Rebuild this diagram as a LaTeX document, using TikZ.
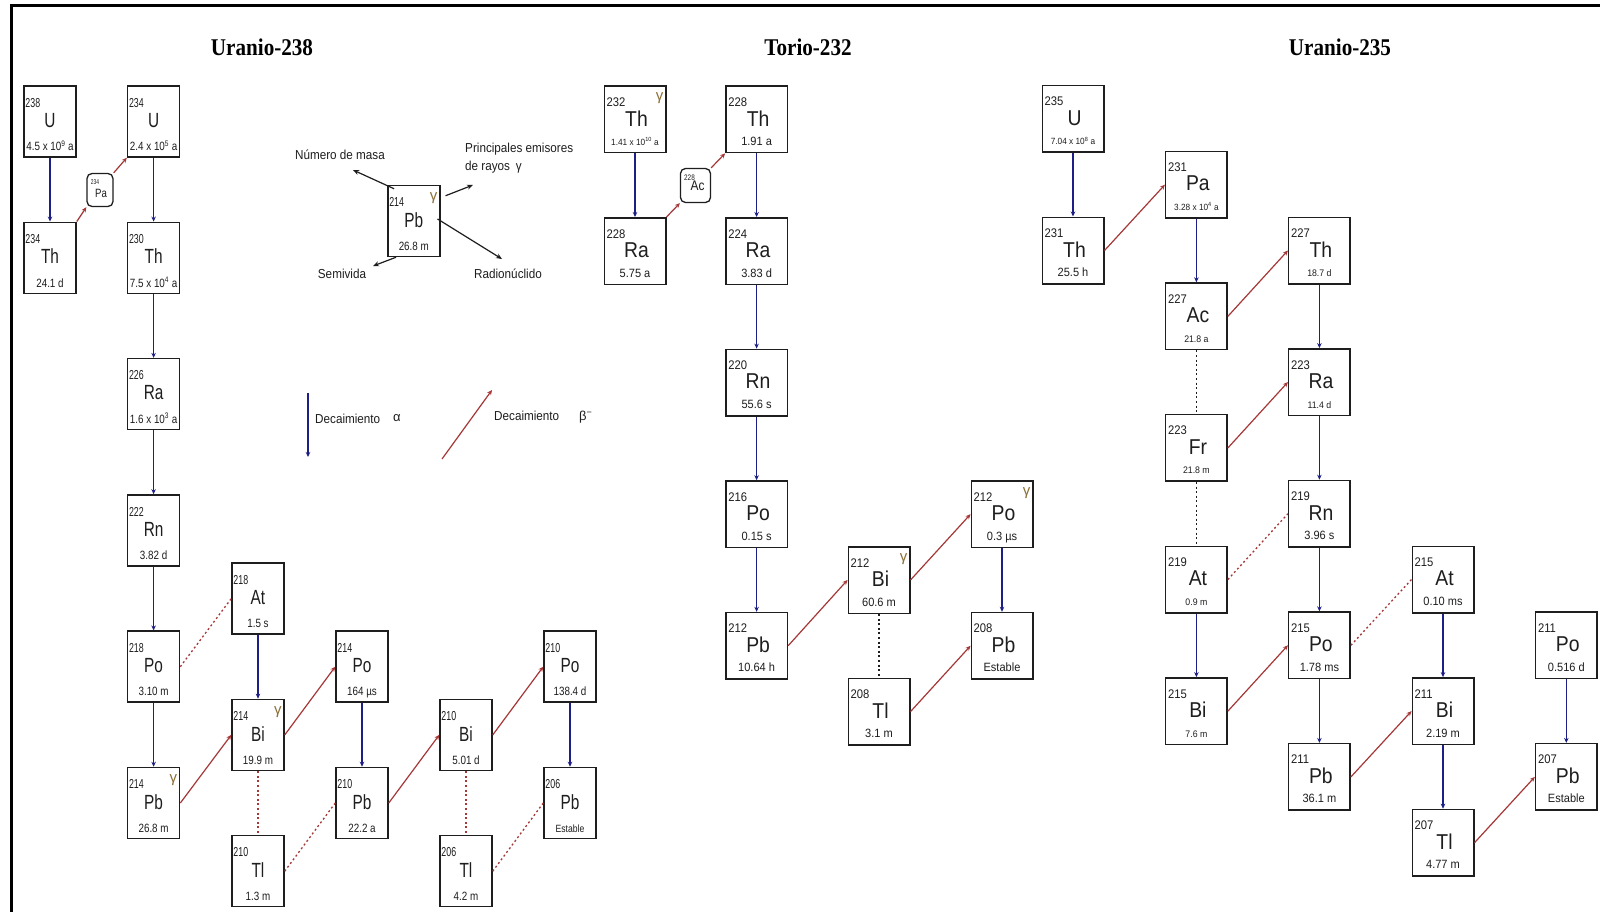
\documentclass[tikz,border=0pt]{standalone}
\usepackage{fontspec}
\usepackage{graphicx}
\setmainfont{Liberation Sans}
\newfontfamily\titlefont{Liberation Serif}
\usetikzlibrary{arrows.meta}
\definecolor{ablue}{RGB}{30,30,135}
\definecolor{bred}{RGB}{165,55,55}
\definecolor{gcol}{RGB}{140,112,55}
\definecolor{bk}{RGB}{30,30,30}
\newcommand{\fs}[1]{\fontsize{#1}{#1}\selectfont}
\tikzset{
  txt/.style={inner sep=0pt, text=bk},
  boxA/.style={draw=bk, line width=1.5pt, minimum width=52pt, minimum height=71pt, inner sep=0pt},
  boxB/.style={draw=bk, line width=1.5pt, minimum width=61.5pt, minimum height=66.5pt, inner sep=0pt},
  smallbox/.style={draw=bk, line width=1.3pt, rounded corners=5pt, inner sep=0pt},
  alphaarr/.style={draw=ablue, line width=1.2pt, -{Stealth[length=5pt,width=4.5pt]}},
  betaarr/.style={draw=bred, line width=1.2pt, -{Stealth[length=5pt,width=4.5pt]}},
  legarr/.style={draw=bk, line width=1.2pt, -{Stealth[length=6pt,width=5pt]}},
  dotr/.style={draw=bred, line width=1.3pt, dash pattern=on 2pt off 2.6pt},
  dotk/.style={draw=bk, line width=1.3pt, dash pattern=on 2pt off 2.6pt},
  lbl/.style={inner sep=0pt, text=bk, font=\fs{13}},
  ttl/.style={inner sep=0pt, text=black, font=\titlefont\bfseries\fs{24}}
}
% U-238 style isotope box
\newcommand{\isoA}[6]{%
  \node[boxA] (#1) at (#2,#3) {};
  \node[txt, anchor=base west] (#1-m) at ([xshift=2pt,yshift=-22pt]#1.north west) {\fs{13}\scalebox{0.68}[1]{#4}};
  \node[txt] (#1-s) at ([yshift=-35pt]#1.north) {\fs{20.5}\scalebox{0.75}[1]{#5}};
  \node[txt, anchor=base] (#1-h) at ([yshift=7pt]#1.south) {\fs{12}\scalebox{0.82}[1]{#6}};
}
% Th-232 / U-235 style isotope box
\newcommand{\isoB}[6]{%
  \node[boxB] (#1) at (#2,#3) {};
  \node[txt, anchor=base west] (#1-m) at ([xshift=3pt,yshift=-21pt]#1.north west) {\fs{12.5}\scalebox{0.9}[1]{#4}};
  \node[txt] (#1-s) at ([xshift=1.5pt,yshift=-33pt]#1.north) {\fs{21.5}\scalebox{0.9}[1]{#5}};
  \node[txt, anchor=base] (#1-h) at ([yshift=8pt]#1.south) {\fs{12}\scalebox{0.92}[1]{#6}};
}
\newcommand{\gam}[1]{\node[txt, text=gcol] (#1-g) at ([xshift=-7pt,yshift=-13pt]#1.north east) {\fs{15}γ};}

\begin{document}
\begin{tikzpicture}[x=1pt,y=-1pt]
\useasboundingbox (0,0) rectangle (1600,912);
\fill[white] (0,0) rectangle (1600,912);
% frame
\draw[line width=3pt, black] (11,912) -- (11,6) -- (1600,6);

% titles
\node[ttl] (t1) at (262,47) {\scalebox{0.88}[1]{Uranio-238}};
\node[ttl] (t2) at (808,47) {\scalebox{0.88}[1]{Torio-232}};
\node[ttl] (t3) at (1340,47) {\scalebox{0.88}[1]{Uranio-235}};

% ---------------- Uranio-238 ----------------
\isoA{U238}{50}{121.5}{238}{U}{4.5 x 10\textsuperscript{9} a}
\isoA{U234}{153.6}{121.5}{234}{U}{2.4 x 10\textsuperscript{5} a}
\isoA{Th234}{50}{257.8}{234}{Th}{24.1 d}
\isoA{Th230}{153.6}{257.8}{230}{Th}{7.5 x 10\textsuperscript{4} a}
\isoA{Ra226}{153.6}{394.1}{226}{Ra}{1.6 x 10\textsuperscript{3} a}
\isoA{Rn222}{153.6}{530.4}{222}{Rn}{3.82 d}
\isoA{At218}{258}{598.6}{218}{At}{1.5 s}
\isoA{Po218}{153.6}{666.7}{218}{Po}{3.10 m}
\isoA{Po214}{362}{666.7}{214}{Po}{164 µs}
\isoA{Po210}{570}{666.7}{210}{Po}{138.4 d}
\isoA{Bi214}{258}{734.9}{214}{Bi}{19.9 m}
\isoA{Bi210}{466}{734.9}{210}{Bi}{5.01 d}
\isoA{Pb214}{153.6}{803}{214}{Pb}{26.8 m}
\isoA{Pb210}{362}{803}{210}{Pb}{22.2 a}
\isoA{Pb206}{570}{803}{206}{Pb}{{\fs{10.5}Estable}}
\isoA{Tl210}{258}{871.2}{210}{Tl}{1.3 m}
\isoA{Tl206}{466}{871.2}{206}{Tl}{4.2 m}
\gam{Pb214}
\gam{Bi214}

\node[smallbox, minimum width=26pt, minimum height=33pt] (Pa234) at (100,190) {};
\node[txt] (Pa234-m) at ([xshift=-5pt,yshift=-9pt]Pa234.north) {\fs{7}\scalebox{0.7}[1]{234}};
\node[txt] (Pa234-s) at ([xshift=1pt,yshift=-21pt]Pa234.north) {\fs{12}\scalebox{0.8}[1]{Pa}};

\draw[alphaarr] (U238.south) -- (Th234.north);
\draw[alphaarr] (U234.south) -- (Th230.north);
\draw[alphaarr] (Th230.south) -- (Ra226.north);
\draw[alphaarr] (Ra226.south) -- (Rn222.north);
\draw[alphaarr] (Rn222.south) -- (Po218.north);
\draw[alphaarr] (Po218.south) -- (Pb214.north);
\draw[alphaarr] (At218.south) -- (Bi214.north);
\draw[alphaarr] (Po214.south) -- (Pb210.north);
\draw[alphaarr] (Po210.south) -- (Pb206.north);
\draw[betaarr] (Th234.north east) -- (Pa234.south west);
\draw[betaarr] (Pa234.north east) -- (U234.south west);
\draw[betaarr] (Pb214.east) -- (Bi214.west);
\draw[betaarr] (Bi214.east) -- (Po214.west);
\draw[betaarr] (Pb210.east) -- (Bi210.west);
\draw[betaarr] (Bi210.east) -- (Po210.west);
\draw[dotr] (Po218.east) -- (At218.west);
\draw[dotr] (Bi214.south) -- (Tl210.north);
\draw[dotr] (Tl210.east) -- (Pb210.west);
\draw[dotr] (Bi210.south) -- (Tl206.north);
\draw[dotr] (Tl206.east) -- (Pb206.west);

% legend
\isoA{Lg}{413.8}{221}{214}{Pb}{26.8 m}
\gam{Lg}
\node[lbl] (lnm) at (340,155) {\scalebox{0.9}[1]{Número de masa}};
\node[lbl, anchor=base west] (lpe1) at (465,153) {\scalebox{0.9}[1]{Principales emisores}};
\node[lbl, anchor=base west] (lpe2) at (465,171) {\scalebox{0.9}[1]{de rayos\enspace γ}};
\node[lbl] (lsv) at (342,274) {\scalebox{0.9}[1]{Semivida}};
\node[lbl] (lrn) at (508,274) {\scalebox{0.9}[1]{Radionúclido}};
\coordinate (anm) at (353,170);
\coordinate (ape) at (473,185);
\coordinate (asv) at (373,266);
\coordinate (arn) at (502,259);
\draw[legarr] ([xshift=7pt,yshift=-4pt]Lg.north west) -- (anm);
\draw[legarr] ([xshift=5pt,yshift=-11pt]Lg.north east) -- (ape);
\draw[legarr] ([xshift=9pt]Lg.south west) -- (asv);
\draw[legarr] ([xshift=-3pt,yshift=2pt]Lg.east) -- (arn);

\coordinate (la1) at (308,393);
\coordinate (la2) at (308,457);
\draw[alphaarr] (la1) -- (la2);
\node[lbl, anchor=base west] (lda) at (315,423) {\scalebox{0.9}[1]{Decaimiento}};
\node[lbl, anchor=base west] (ldaa) at (393,421) {α};
\coordinate (lb1) at (442,459);
\coordinate (lb2) at (492,390);
\draw[betaarr] (lb1) -- (lb2);
\node[lbl, anchor=base west] (ldb) at (494,420) {\scalebox{0.9}[1]{Decaimiento}};
\node[lbl, anchor=base west] (ldbb) at (579,420) {β\textsuperscript{−}};

% ---------------- Torio-232 ----------------
\isoB{Th232}{635}{119.4}{232}{Th}{{\fs{9}1.41 x 10\textsuperscript{10} a}}
\isoB{Th228}{756.6}{119.4}{228}{Th}{1.91 a}
\isoB{Ra228}{635}{251}{228}{Ra}{5.75 a}
\isoB{Ra224}{756.6}{251}{224}{Ra}{3.83 d}
\isoB{Rn220}{756.6}{382.6}{220}{Rn}{55.6 s}
\isoB{Po216}{756.6}{514.2}{216}{Po}{0.15 s}
\isoB{Pb212}{756.6}{645.8}{212}{Pb}{10.64 h}
\isoB{Bi212}{879}{580}{212}{Bi}{60.6 m}
\isoB{Po212}{1002}{514.2}{212}{Po}{0.3 µs}
\isoB{Pb208}{1002}{645.8}{208}{Pb}{Estable}
\isoB{Tl208}{879}{711.6}{208}{Tl}{3.1 m}
\gam{Th232}
\gam{Bi212}
\gam{Po212}

\node[smallbox, minimum width=30pt, minimum height=34pt] (Ac228) at (695.5,185.5) {};
\node[txt] (Ac228-m) at ([xshift=-6pt,yshift=-10pt]Ac228.north) {\fs{8}\scalebox{0.8}[1]{228}};
\node[txt] (Ac228-s) at ([xshift=2pt,yshift=-18pt]Ac228.north) {\fs{14}\scalebox{0.85}[1]{Ac}};

\draw[alphaarr] (Th232.south) -- (Ra228.north);
\draw[alphaarr] (Th228.south) -- (Ra224.north);
\draw[alphaarr] (Ra224.south) -- (Rn220.north);
\draw[alphaarr] (Rn220.south) -- (Po216.north);
\draw[alphaarr] (Po216.south) -- (Pb212.north);
\draw[alphaarr] (Po212.south) -- (Pb208.north);
\draw[betaarr] (Ra228.north east) -- (Ac228.south west);
\draw[betaarr] (Ac228.north east) -- (Th228.south west);
\draw[betaarr] (Pb212.east) -- (Bi212.west);
\draw[betaarr] (Bi212.east) -- (Po212.west);
\draw[betaarr] (Tl208.east) -- (Pb208.west);
\draw[dotk] (Bi212.south) -- (Tl208.north);

% ---------------- Uranio-235 ----------------
\isoB{U235}{1073}{118.9}{235}{U}{{\fs{9}7.04 x 10\textsuperscript{8} a}}
\isoB{Th231}{1073}{250.5}{231}{Th}{25.5 h}
\isoB{Pa231}{1196.4}{184.7}{231}{Pa}{{\fs{9}3.28 x 10\textsuperscript{4} a}}
\isoB{Ac227}{1196.4}{316.3}{227}{Ac}{{\fs{9.5}21.8 a}}
\isoB{Th227}{1319.4}{250.5}{227}{Th}{{\fs{9.5}18.7 d}}
\isoB{Ra223}{1319.4}{382.1}{223}{Ra}{{\fs{9.5}11.4 d}}
\isoB{Fr223}{1196.4}{447.9}{223}{Fr}{{\fs{9.5}21.8 m}}
\isoB{Rn219}{1319.4}{513.7}{219}{Rn}{3.96 s}
\isoB{At219}{1196.4}{579.5}{219}{At}{{\fs{9.5}0.9 m}}
\isoB{Po215}{1319.4}{645.3}{215}{Po}{1.78 ms}
\isoB{At215}{1443}{579.5}{215}{At}{0.10 ms}
\isoB{Bi215}{1196.4}{711.1}{215}{Bi}{{\fs{9.5}7.6 m}}
\isoB{Pb211}{1319.4}{776.9}{211}{Pb}{36.1 m}
\isoB{Bi211}{1443}{711.1}{211}{Bi}{2.19 m}
\isoB{Po211}{1566.3}{645.3}{211}{Po}{0.516 d}
\isoB{Pb207}{1566.3}{776.9}{207}{Pb}{Estable}
\isoB{Tl207}{1443}{842.7}{207}{Tl}{4.77 m}

\draw[alphaarr] (U235.south) -- (Th231.north);
\draw[alphaarr] (Pa231.south) -- (Ac227.north);
\draw[alphaarr] (Th227.south) -- (Ra223.north);
\draw[alphaarr] (Ra223.south) -- (Rn219.north);
\draw[alphaarr] (Rn219.south) -- (Po215.north);
\draw[alphaarr] (At219.south) -- (Bi215.north);
\draw[alphaarr] (Po215.south) -- (Pb211.north);
\draw[alphaarr] (At215.south) -- (Bi211.north);
\draw[alphaarr] (Bi211.south) -- (Tl207.north);
\draw[alphaarr] (Po211.south) -- (Pb207.north);
\draw[betaarr] (Th231.east) -- (Pa231.west);
\draw[betaarr] (Ac227.east) -- (Th227.west);
\draw[betaarr] (Fr223.east) -- (Ra223.west);
\draw[betaarr] (Bi215.east) -- (Po215.west);
\draw[betaarr] (Pb211.east) -- (Bi211.west);
\draw[betaarr] (Tl207.east) -- (Pb207.west);
\draw[dotk] (Ac227.south) -- (Fr223.north);
\draw[dotk] (Fr223.south) -- (At219.north);
\draw[dotr] (At219.east) -- (Rn219.west);
\draw[dotr] (Po215.east) -- (At215.west);
\end{tikzpicture}
\end{document}
